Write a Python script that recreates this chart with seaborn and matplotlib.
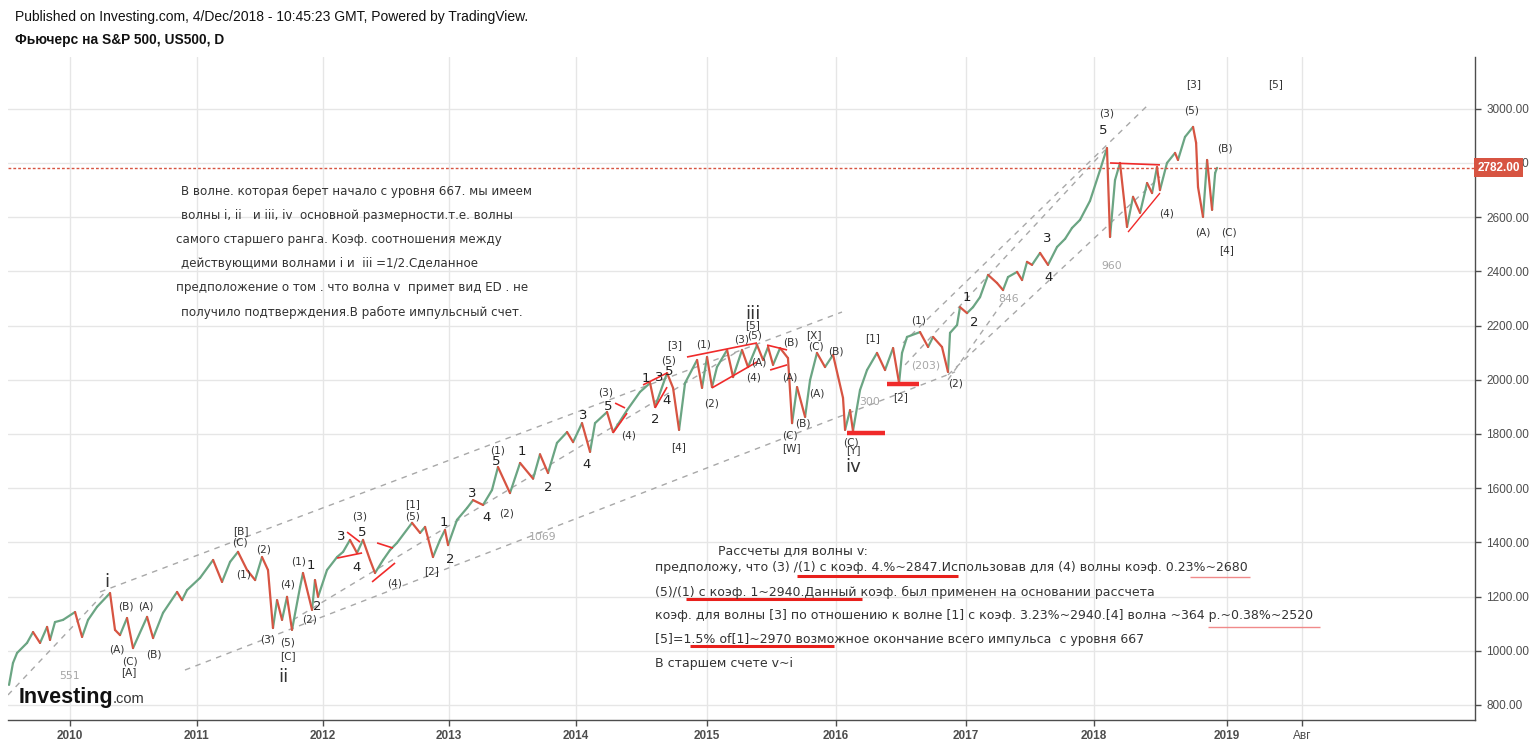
import matplotlib
matplotlib.use("Agg")
import matplotlib.pyplot as plt
import matplotlib.transforms as mtransforms
import pandas as pd
import seaborn as sns

# price path (x in chart years, close in index points)
dates = [
    2009.530, 2009.561, 2009.593, 2009.671, 2009.718, 2009.773, 2009.828, 2009.851, 2009.890, 2009.953,
    2010.047, 2010.102, 2010.149, 2010.219, 2010.321, 2010.360, 2010.399, 2010.454, 2010.501, 2010.611,
    2010.658, 2010.736, 2010.846, 2010.885, 2010.924, 2011.026, 2011.128, 2011.198, 2011.261, 2011.323,
    2011.394, 2011.457, 2011.511, 2011.558, 2011.597, 2011.629, 2011.668, 2011.707, 2011.746, 2011.809,
    2011.832, 2011.903, 2011.926, 2011.950, 2012.020, 2012.099, 2012.146, 2012.200, 2012.255, 2012.302,
    2012.357, 2012.396, 2012.459, 2012.514, 2012.568, 2012.686, 2012.749, 2012.788, 2012.850, 2012.905,
    2012.944, 2012.968, 2013.038, 2013.117, 2013.164, 2013.242, 2013.312, 2013.359, 2013.453, 2013.532,
    2013.634, 2013.688, 2013.751, 2013.821, 2013.900, 2013.947, 2014.017, 2014.080, 2014.119, 2014.213,
    2014.260, 2014.370, 2014.471, 2014.550, 2014.589, 2014.683, 2014.730, 2014.777, 2014.824, 2014.918,
    2014.957, 2014.996, 2015.035, 2015.074, 2015.153, 2015.200, 2015.270, 2015.317, 2015.388, 2015.435,
    2015.474, 2015.513, 2015.568, 2015.630, 2015.662, 2015.701, 2015.764, 2015.803, 2015.857, 2015.920,
    2015.983, 2016.061, 2016.077, 2016.116, 2016.139, 2016.194, 2016.249, 2016.327, 2016.390, 2016.453,
    2016.500, 2016.523, 2016.562, 2016.664, 2016.727, 2016.766, 2016.836, 2016.883, 2016.899, 2016.954,
    2016.977, 2017.032, 2017.079, 2017.134, 2017.197, 2017.267, 2017.314, 2017.353, 2017.424, 2017.463,
    2017.502, 2017.541, 2017.604, 2017.666, 2017.737, 2017.800, 2017.854, 2017.917, 2017.995, 2018.074,
    2018.128, 2018.152, 2018.191, 2018.230, 2018.285, 2018.332, 2018.387, 2018.442, 2018.481, 2018.520,
    2018.543, 2018.598, 2018.661, 2018.684, 2018.739, 2018.802, 2018.826, 2018.841, 2018.880, 2018.912,
    2018.951, 2018.975, 2018.990,
]
closes = [
    874, 955, 992, 1029, 1069, 1029, 1088, 1040, 1106, 1114,
    1143, 1051, 1114, 1162, 1213, 1077, 1058, 1121, 1010, 1125,
    1047, 1140, 1217, 1187, 1224, 1269, 1335, 1254, 1328, 1365,
    1298, 1261, 1346, 1298, 1084, 1187, 1114, 1199, 1077, 1235,
    1287, 1151, 1261, 1199, 1298, 1346, 1365, 1409, 1361, 1409,
    1335, 1287, 1335, 1372, 1398, 1472, 1435, 1457, 1346, 1409,
    1446, 1390, 1483, 1527, 1556, 1538, 1593, 1678, 1582, 1693,
    1635, 1725, 1656, 1767, 1807, 1770, 1840, 1734, 1840, 1881,
    1807, 1888, 1955, 1988, 1900, 2025, 1970, 1815, 1988, 2073,
    1970, 2084, 1973, 2047, 2110, 2010, 2110, 2047, 2128, 2073,
    2121, 2055, 2117, 2080, 1840, 1973, 1863, 1999, 2099, 2047,
    2092, 1933, 1815, 1888, 1811, 1962, 2036, 2099, 2036, 2117,
    1988, 2099, 2158, 2176, 2121, 2158, 2121, 2029, 2173, 2202,
    2268, 2246, 2268, 2305, 2387, 2357, 2331, 2379, 2398, 2368,
    2435, 2424, 2468, 2424, 2490, 2520, 2560, 2590, 2660, 2774,
    2855, 2527, 2737, 2800, 2564, 2675, 2616, 2726, 2689, 2785,
    2700, 2800, 2837, 2811, 2896, 2933, 2874, 2711, 2601, 2811,
    2627, 2763, 2782,
]
last_price = 2782.0

year_ticks = [2010.008, 2011.002, 2011.989, 2012.976, 2013.970, 2014.996,
              2016.006, 2017.024, 2018.027, 2019.068, 2019.655]
year_labels = ["2010", "2011", "2012", "2013", "2014", "2015",
               "2016", "2017", "2018", "2019", "Авг"]
price_ticks = list(range(800, 3001, 200))

# gray dashed channel lines (x0, y0, x1, y1)
channels = [
    (2009.522, 837, 2010.298, 1224),
    (2010.243, 1217, 2016.053, 2250),
    (2010.908, 929, 2016.938, 2029),
    (2011.754, 1114, 2015.255, 2110),
    (2016.547, 2055, 2018.113, 2848),
    (2016.531, 2136, 2018.465, 3021),
    (2016.883, 2000, 2017.314, 2287),
    (2016.883, 2018, 2018.543, 2749),
]

# red wave trend lines (x0, y0, x1, y1, width)
red_lines = [
    (2012.177, 1438, 2012.279, 1401, 1.2),
    (2012.099, 1342, 2012.295, 1361, 1.2),
    (2012.412, 1398, 2012.537, 1379, 1.2),
    (2012.373, 1254, 2012.553, 1324, 1.2),
    (2014.276, 1914, 2014.354, 1896, 1.2),
    (2014.260, 1804, 2014.370, 1877, 1.2),
    (2014.495, 1981, 2014.683, 2025, 1.2),
    (2014.589, 1896, 2014.683, 1973, 1.2),
    (2014.839, 2084, 2015.388, 2136, 1.2),
    (2015.035, 1970, 2015.388, 2066, 1.2),
    (2015.466, 2128, 2015.623, 2110, 1.2),
    (2015.490, 2036, 2015.623, 2055, 1.2),
    (2016.093, 1804, 2016.390, 1804, 3.2),
    (2016.406, 1984, 2016.656, 1984, 3.2),
    (2018.152, 2800, 2018.543, 2793, 1.2),
    (2018.293, 2545, 2018.543, 2689, 1.0),
]

# wave labels: text, x, y, kind (p=degree in brackets, d=digit, r=roman, g=gray length)
wave_labels = [
    ("i", 2010.298, 1254, "r"), ("(B)", 2010.446, 1162, "p"), ("(A)", 2010.603, 1165, "p"),
    ("(A)", 2010.376, 1003, "p"), ("(C)", 2010.478, 959, "p"), ("[A]", 2010.470, 922, "p"),
    ("(B)", 2010.666, 985, "p"), ("551", 2010.000, 907, "g"), ("[B]", 2011.347, 1442, "p"),
    ("(C)", 2011.339, 1401, "p"), ("(2)", 2011.527, 1372, "p"), ("(1)", 2011.370, 1280, "p"),
    ("(1)", 2011.801, 1331, "p"), ("1", 2011.895, 1313, "d"), ("(4)", 2011.715, 1243, "p"),
    ("2", 2011.942, 1162, "d"), ("(2)", 2011.887, 1114, "p"), ("(3)", 2011.558, 1040, "p"),
    ("(5)", 2011.715, 1029, "p"), ("[C]", 2011.715, 981, "p"), ("ii", 2011.676, 903, "r"),
    ("(3)", 2012.279, 1494, "p"), ("3", 2012.130, 1420, "d"), ("5", 2012.295, 1438, "d"),
    ("4", 2012.255, 1309, "d"), ("(4)", 2012.553, 1250, "p"), ("[1]", 2012.694, 1542, "p"),
    ("(5)", 2012.694, 1494, "p"), ("1", 2012.937, 1472, "d"), ("[2]", 2012.835, 1294, "p"),
    ("2", 2012.984, 1335, "d"), ("3", 2013.156, 1582, "d"), ("4", 2013.266, 1490, "d"),
    ("(2)", 2013.430, 1508, "p"), ("(1)", 2013.352, 1740, "p"), ("5", 2013.344, 1697, "d"),
    ("1", 2013.547, 1734, "d"), ("2", 2013.751, 1604, "d"), ("1069", 2013.712, 1420, "g"),
    ("3", 2014.025, 1870, "d"), ("4", 2014.056, 1689, "d"), ("(3)", 2014.205, 1954, "p"),
    ("5", 2014.221, 1900, "d"), ("(4)", 2014.378, 1796, "p"), ("1", 2014.519, 2003, "d"),
    ("3", 2014.620, 2010, "d"), ("(5)", 2014.691, 2070, "p"), ("5", 2014.699, 2032, "d"),
    ("4", 2014.683, 1922, "d"), ("2", 2014.589, 1855, "d"), ("[3]", 2014.746, 2128, "p"),
    ("(1)", 2014.965, 2132, "p"), ("[4]", 2014.777, 1752, "p"), ("(2)", 2015.035, 1914, "p"),
    ("iii", 2015.356, 2243, "r"), ("[5]", 2015.356, 2202, "p"), ("(5)", 2015.372, 2165, "p"),
    ("(3)", 2015.268, 2147, "p"), ("(4)", 2015.364, 2007, "p"), ("(A)", 2015.403, 2062, "p"),
    ("(B)", 2015.654, 2136, "p"), ("(A)", 2015.646, 2010, "p"), ("[X]", 2015.834, 2165, "p"),
    ("(C)", 2015.850, 2121, "p"), ("(B)", 2016.006, 2103, "p"), ("(A)", 2015.858, 1951, "p"),
    ("(B)", 2015.748, 1837, "p"), ("(C)", 2015.646, 1793, "p"), ("[W]", 2015.654, 1748, "p"),
    ("(C)", 2016.124, 1767, "p"), ("[Y]", 2016.139, 1741, "p"), ("iv", 2016.139, 1678, "r"),
    ("300", 2016.273, 1918, "g"), ("[1]", 2016.296, 2154, "p"), ("(1)", 2016.649, 2217, "p"),
    ("(203)", 2016.711, 2051, "g"), ("[2]", 2016.508, 1937, "p"), ("(2)", 2016.946, 1988, "p"),
    ("1", 2017.032, 2302, "d"), ("2", 2017.087, 2213, "d"), ("846", 2017.361, 2298, "g"),
    ("3", 2017.659, 2520, "d"), ("4", 2017.674, 2379, "d"), ("960", 2018.168, 2420, "g"),
    ("(3)", 2018.128, 2984, "p"), ("5", 2018.097, 2918, "d"), ("(4)", 2018.591, 2615, "p"),
    ("[3]", 2018.810, 3091, "p"), ("[5]", 2019.452, 3091, "p"), ("(5)", 2018.794, 2992, "p"),
    ("(B)", 2019.052, 2852, "p"), ("(A)", 2018.880, 2545, "p"), ("(C)", 2019.084, 2545, "p"),
    ("[4]", 2019.068, 2479, "p"),
]

notes_left = [
    "В волне. которая берет начало с уровня 667. мы имеем",
    "волны i, ii   и iii, iv  основной размерности.т.е. волны",
    "самого старшего ранга. Коэф. соотношения между",
    "действующими волнами i и  iii =1/2.Сделанное",
    "предположение о том . что волна v  примет вид ED . не",
    "получило подтверждения.В работе импульсный счет.",
]
notes_bottom = [
    "Рассчеты для волны v:",
    "предположу, что (3) /(1) с коэф. 4.%~2847.Использовав для (4) волны коэф. 0.23%~2680",
    "(5)/(1) с коэф. 1~2940.Данный коэф. был применен на основании рассчета",
    "коэф. для волны [3] по отношению к волне [1] с коэф. 3.23%~2940.[4] волна ~364 р.~0.38%~2520",
    "[5]=1.5% of[1]~2970 возможное окончание всего импульса  с уровня 667",
    "В старшем счете v~i",
]
# red underlines in the bottom note (x0, x1, y, width, colour)
underlines = [
    (2015.701, 2016.962, 1276, 2.2, "#e8201c"),
    (2014.832, 2016.210, 1191, 2.2, "#e8201c"),
    (2014.863, 2015.991, 1018, 2.2, "#e8201c"),
    (2018.778, 2019.248, 1272, 1.0, "#f08a8a"),
    (2018.919, 2019.796, 1088, 1.0, "#f08a8a"),
]

GREEN = "#6ba583"
RED = "#d75442"
W, H = 1533, 744


def fig_xy(x, y):
    return x / W, 1 - y / H


sns.set_theme(style="white")
plt.rcParams["font.family"] = ["DejaVu Sans"]

fig = plt.figure(figsize=(W / 100, H / 100), dpi=100)
ax = fig.add_axes([8 / W, 24 / H, 1467 / W, 663 / H])

# one two-point segment per bar, coloured by direction
rows = []
for i in range(1, len(dates)):
    d = "up" if closes[i] >= closes[i - 1] else "down"
    rows.append((i, dates[i - 1], closes[i - 1], d))
    rows.append((i, dates[i], closes[i], d))
seg = pd.DataFrame(rows, columns=["seg", "date", "price", "dir"])
sns.lineplot(data=seg, x="date", y="price", hue="dir", units="seg", estimator=None,
             palette={"up": GREEN, "down": RED}, legend=False, lw=1.6, sort=False, ax=ax, zorder=3)

for x0, y0, x1, y1 in channels:
    ax.plot([x0, x1], [y0, y1], color="#a8a8a8", lw=1, ls=(0, (4, 4)), zorder=2)
for x0, y0, x1, y1, w in red_lines:
    ax.plot([x0, x1], [y0, y1], color="#f02a2a", lw=w, zorder=4, solid_capstyle="butt")

styles = {
    "p": dict(fontsize=7.6, color="#333333"),
    "d": dict(fontsize=9.5, color="#222222"),
    "r": dict(fontsize=13, color="#333333"),
    "g": dict(fontsize=7.8, color="#a6a6a6"),
}
for txt, x, y, kind in wave_labels:
    ax.text(x, y, txt, ha="center", va="center", zorder=5, **styles[kind])

ax.axhline(last_price, color=RED, lw=1, ls=(0, (2, 1.5)), zorder=4)
trans = mtransforms.blended_transform_factory(ax.transAxes, ax.transData)
ax.text(1.0015, last_price, "2782.00", transform=trans, ha="left", va="center", color="white",
        fontsize=8.5, fontweight="bold", family="Liberation Sans", clip_on=False, zorder=10,
        bbox=dict(boxstyle="square,pad=0.3", fc=RED, ec="none"))

for x0, x1, y, w, c in underlines:
    ax.plot([x0, x1], [y, y], color=c, lw=w, zorder=4, solid_capstyle="butt")

ax.set_xlim(2009.522, 2021.01)
ax.set_ylim(744.6, 3191)
ax.set_xlabel("")
ax.set_ylabel("")
ax.set_xticks(year_ticks)
ax.set_xticklabels(year_labels)
ax.set_yticks(price_ticks)
ax.set_yticklabels([f"{v:.2f}" for v in price_ticks])
ax.yaxis.tick_right()
ax.grid(True, color="#e6e6e6", lw=1)
ax.set_axisbelow(True)
for side in ["top", "left"]:
    ax.spines[side].set_visible(False)
for side in ["bottom", "right"]:
    ax.spines[side].set_color("#4d4d4d")
    ax.spines[side].set_linewidth(1)
ax.tick_params(axis="y", length=4, width=1, color="#4d4d4d", pad=4, labelsize=8.5,
               labelcolor="#4d4d4d", right=True, left=False)
ax.tick_params(axis="x", length=4, width=1, color="#4d4d4d", pad=3, labelsize=8.5,
               labelcolor="#4d4d4d", bottom=True)
for lab in ax.get_yticklabels():
    lab.set_family("Liberation Sans")
for lab in ax.get_xticklabels():
    lab.set_family("Liberation Sans")
    if lab.get_text() != "Авг":
        lab.set_fontweight("bold")

# header
fig.text(*fig_xy(15, 17), "Published on Investing.com, 4/Dec/2018 - 10:45:23 GMT, Powered by TradingView.",
         family="Liberation Sans", fontsize=10.0, color="#111111", va="center")
fig.text(*fig_xy(15, 40), "Фьючерс на S&P 500, US500, D", family="Liberation Sans",
         fontsize=9.9, fontweight="bold", color="#111111", va="center")

# analyst notes
left_x = [181, 181, 176, 181, 176, 181]
left_y = [191, 216, 240, 264, 288, 312]
for line, x, y in zip(notes_left, left_x, left_y):
    fig.text(*fig_xy(x, y), line, fontsize=8.6, color="#333333", va="center")
bottom_x = [718, 655, 655, 655, 655, 655]
bottom_y = [551, 567, 592, 616, 639, 663]
for line, x, y in zip(notes_bottom, bottom_x, bottom_y):
    fig.text(*fig_xy(x, y), line, fontsize=9.0, color="#333333", va="center")

# watermark
fig.text(*fig_xy(19, 697), "Investing", family="Liberation Sans", fontsize=15.5,
         fontweight="bold", color="#111111", va="center")
fig.text(*fig_xy(113, 699), ".com", family="Liberation Sans", fontsize=10.5,
         color="#333333", va="center")

fig.savefig("out.png", dpi=100)
